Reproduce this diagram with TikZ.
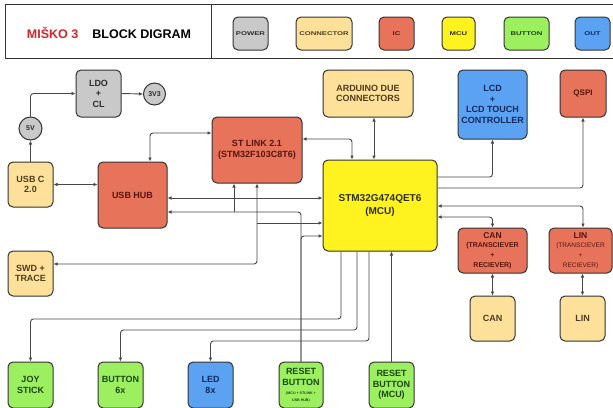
\documentclass[tikz,border=0pt]{standalone}
\usepackage{fontspec}
\setmainfont{Liberation Sans}
\usepackage{graphicx}
\usepackage{tikz}
\usetikzlibrary{arrows.meta, positioning, calc}
\definecolor{bordergray}{RGB}{51, 51, 51}
\definecolor{linegray}{RGB}{72, 72, 72}
\definecolor{powergray}{RGB}{201, 201, 201}
\definecolor{powerdark}{RGB}{45, 45, 45}
\definecolor{connyellow}{RGB}{253, 225, 154}
\definecolor{conndark}{RGB}{80, 60, 30}
\definecolor{icred}{RGB}{232, 115, 91}
\definecolor{icdark}{RGB}{85, 22, 12}
\definecolor{mcuyellow}{RGB}{255, 243, 31}
\definecolor{mcudark}{RGB}{45, 45, 10}
\definecolor{btngreen}{RGB}{156, 239, 95}
\definecolor{btndark}{RGB}{30, 70, 15}
\definecolor{outblue}{RGB}{91, 163, 242}
\definecolor{outdark}{RGB}{15, 40, 95}
\definecolor{titlered}{RGB}{212, 36, 40}
\newcommand{\legtext}[1]{\scalebox{1.4}[1]{#1}}

\begin{document}
\begin{tikzpicture}[
  x=1pt, y=-1pt,
  blk/.style={draw=bordergray, line width=1pt, rounded corners=5pt, align=center, inner sep=1pt, font=\bfseries\fontsize{9}{10.5}\selectfont},
  pbox/.style={blk, fill=powergray, text=powerdark},
  cbox/.style={blk, fill=connyellow, text=conndark},
  icbox/.style={blk, fill=icred, text=icdark},
  mbox/.style={blk, fill=mcuyellow, text=mcudark},
  bbox/.style={blk, fill=btngreen, text=btndark},
  obox/.style={blk, fill=outblue, text=outdark},
  volt/.style={circle, draw=bordergray, line width=1pt, fill=powergray, text=powerdark, minimum size=22, inner sep=0pt, font=\bfseries\fontsize{7}{8}\selectfont},
  leg/.style={minimum height=33, inner sep=0pt, font=\bfseries\fontsize{5.5}{6}\selectfont},
  conn/.style={draw=linegray, line width=0.9pt, rounded corners=3pt, -{Latex[length=4pt,width=3.6pt]}},
  dconn/.style={conn, {Latex[length=4pt,width=3.6pt]}-{Latex[length=4pt,width=3.6pt]}},
  wire/.style={draw=linegray, line width=0.9pt, rounded corners=3pt}
]
  \useasboundingbox (0,0) rectangle (613,407);

  % header
  \draw[bordergray, line width=1pt] (5,4) rectangle (618,58);
  \draw[bordergray, line width=1pt] (211,4) -- (211,58);
  \node[font=\bfseries\fontsize{12.5}{14}\selectfont] (title) at (109,33) {\textcolor{titlered}{MIŠKO 3}\hspace{14pt}BLOCK DIGRAM};
  \node[pbox, leg, minimum width=35] (legpower) at (250.5,33.5) {\legtext{POWER}};
  \node[cbox, leg, minimum width=56] (legconn) at (324,33.5) {\legtext{CONNECTOR}};
  \node[icbox, leg, minimum width=35] (legic) at (396.5,33.5) {\legtext{IC}};
  \node[mbox, leg, minimum width=33] (legmcu) at (458.5,33.5) {\legtext{MCU}};
  \node[bbox, leg, minimum width=45] (legbtn) at (526.5,33.5) {\legtext{BUTTON}};
  \node[obox, leg, minimum width=35] (legout) at (592.5,33.5) {\legtext{OUT}};

  % blocks
  \node[pbox, minimum width=45, minimum height=47] (ldo) at (98.5,93.5) {LDO\\+\\CL};
  \node[volt] (v33) at (154.5,94) {3V3};
  \node[volt, minimum size=23] (v5) at (30.5,128.5) {5V};
  \node[cbox, minimum width=45, minimum height=45] (usbc) at (30.5,184.5) {USB C\\2.0};
  \node[icbox, minimum width=69, minimum height=66] (hub) at (132.5,195) {USB HUB};
  \node[icbox, minimum width=90, minimum height=66] (stlink) at (257,150) {ST LINK 2.1\\(STM32F103C8T6)};
  \node[cbox, minimum width=90, minimum height=47] (arduino) at (368,93.5) {ARDUINO DUE\\CONNECTORS};
  \node[obox, minimum width=69, minimum height=69] (lcd) at (492.5,104.5) {LCD\\+\\LCD TOUCH\\CONTROLLER};
  \node[icbox, minimum width=46, minimum height=47, font=\bfseries\fontsize{8}{9}\selectfont] (qspi) at (583,93.5) {QSPI};
  \node[mbox, minimum width=114, minimum height=91, font=\bfseries\fontsize{10}{13}\selectfont] (mcu) at (380,205.5) {STM32G474QET6\\(MCU)};
  \node[icbox, minimum width=69, minimum height=45, font=\bfseries\fontsize{7}{9.6}\selectfont] (cant) at (492.5,250.5) {{\fontsize{8.5}{9.6}\selectfont CAN}\\(TRANSCIEVER\\+\\RECIEVER)};
  \node[icbox, minimum width=63, minimum height=45, font=\fontsize{6.5}{9.6}\selectfont] (lint) at (580.5,250.5) {{\bfseries\fontsize{8.5}{9.6}\selectfont LIN}\\(TRANSCIEVER\\+\\RECIEVER)};
  \node[cbox, minimum width=45, minimum height=45] (can) at (492.5,318.5) {CAN};
  \node[cbox, minimum width=45, minimum height=45] (lin) at (582.5,318.5) {LIN};
  \node[cbox, minimum width=45, minimum height=45] (swd) at (30.5,273.5) {SWD +\\TRACE};
  \node[bbox, minimum width=45, minimum height=46] (joy) at (30.5,385) {JOY\\STICK};
  \node[bbox, minimum width=45, minimum height=46] (btn) at (120.5,385) {BUTTON\\6x};
  \node[obox, minimum width=45, minimum height=46] (led) at (210.5,385) {LED\\8x};
  \node[bbox, minimum width=44, minimum height=46] (rstall) at (301,385) {RESET\\BUTTON\\[-1pt]{\fontsize{3.6}{4.6}\selectfont (MCU + STLINK +}\\[-4pt]{\fontsize{3.6}{4.6}\selectfont USB HUB)}};
  \node[bbox, minimum width=45, minimum height=46] (rstmcu) at (391.5,385) {RESET\\BUTTON\\(MCU)};

  % lanes
  \coordinate (hubst) at (150,133);
  \coordinate (stmcu) at (352,139);
  \coordinate (ardx) at (374,0);
  \coordinate (lcdy) at (0,177);
  \coordinate (qspiy) at (0,188);
  \coordinate (liny) at (583,206);
  \coordinate (cany) at (0,217);
  \coordinate (hubmcu) at (0,198);
  \coordinate (rsty) at (0,212);
  \coordinate (rstst) at (234,0);
  \coordinate (rstmy) at (0,236);
  \coordinate (swdx) at (257,264);
  \coordinate (swdmcu) at (257,223);
  \coordinate (joyl) at (341,319);
  \coordinate (btnl) at (357,330);
  \coordinate (ledl) at (369,341);

  % power
  \draw[conn] (usbc.north) -- (v5.south);
  \draw[conn] (v5.north) |- (ldo.west);
  \draw[conn] (ldo.east) -- (v33.west);

  % usb and debug
  \draw[dconn] (usbc.east) -- (usbc.east -| hub.west);
  \draw[dconn] (hub.north -| hubst) |- (stlink.west |- hubst);
  \draw[dconn] (stlink.east |- stmcu) -| (mcu.north -| stmcu);
  \draw[dconn] (hub.east |- hubmcu) -- (mcu.west |- hubmcu);
  \draw[dconn] (stlink.south -| swdx) |- (swd.east |- swdx);
  \draw[conn] (swdmcu) -- (mcu.west |- swdmcu);

  % reset lines
  \draw[conn] (rstall.north) |- (hub.east |- rsty);
  \draw[conn] (rstst |- rsty) -- (stlink.south -| rstst);
  \draw[conn] (rstall.north) |- (mcu.west |- rstmy);
  \draw[conn] (rstmcu.north) -- (rstmcu.north |- mcu.south);

  % mcu peripherals
  \draw[dconn] (arduino.south -| ardx) -- (mcu.north -| ardx);
  \draw[conn] (mcu.east |- lcdy) -| (lcd.south);
  \draw[conn] (mcu.east |- qspiy) -| (qspi.south);
  \draw[dconn] (mcu.east |- liny) -| (lint.north -| liny);
  \draw[dconn] (mcu.east |- cany) -| (cant.north);
  \draw[dconn] (cant.south) -- (can.north);
  \draw[dconn] (lint.south -| lin.north) -- (lin.north);
  \draw[conn] (mcu.south -| joyl) |- (joy.north |- joyl) -- (joy.north);
  \draw[conn] (mcu.south -| btnl) |- (btn.north |- btnl) -- (btn.north);
  \draw[conn] (mcu.south -| ledl) |- (led.north |- ledl) -- (led.north);
\end{tikzpicture}
\end{document}
